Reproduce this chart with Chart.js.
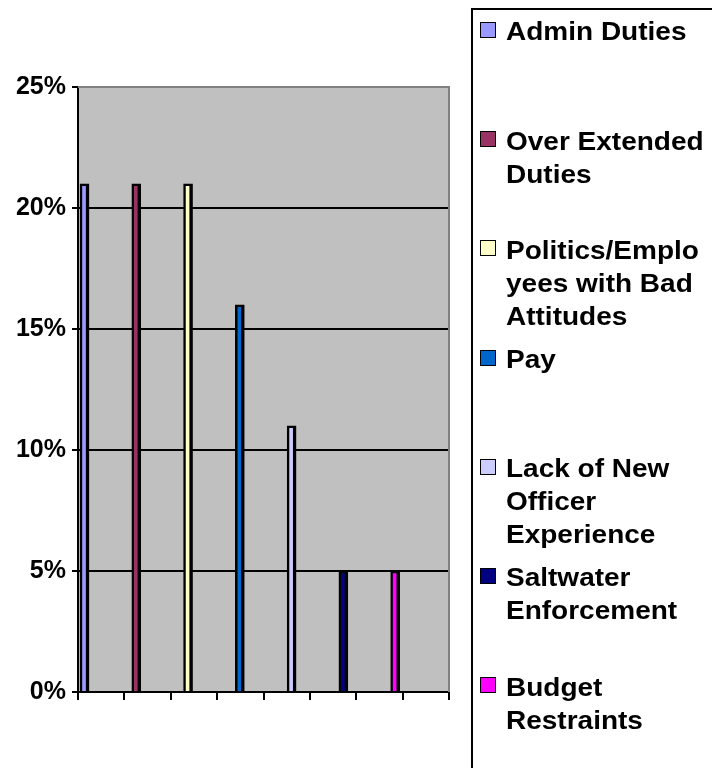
<!DOCTYPE html>
<html>
<head>
<meta charset="utf-8">
<script src="https://cdn.jsdelivr.net/npm/chart.js@4"></script>
<style>
  html, body { margin: 0; padding: 0; background: #fff; overflow: hidden; width: 712px; height: 768px; }
  #wrap { position: absolute; left: 0; top: 0; width: 712px; height: 768px; }
  #legend { position: absolute; left: 471px; top: 8px; width: 300px; height: 820px; border: 2px solid #000; box-sizing: content-box; }
  .item { position: absolute; left: 0; width: 300px; }
  .box { position: absolute; left: 7px; top: 6.6px; width: 14px; height: 14px; border: 1.5px solid #000; }
  .txt { position: absolute; left: 32.5px; top: 0; font: bold 25px "Liberation Sans", Arial, sans-serif; line-height: 33px; color: #000; white-space: nowrap; transform: scaleX(1.12); transform-origin: 0 0; }
</style>
</head>
<body>
<div id="wrap"><canvas id="c" width="712" height="768"></canvas></div>
<div id="legend"></div>
<script>
const categories = ['Admin Duties', 'Over Extended Duties', 'Politics/Employees with Bad Attitudes', 'Pay', 'Lack of New Officer Experience', 'Saltwater Enforcement', 'Budget Restraints'];
const legendLines = [['Admin Duties'], ['Over Extended', 'Duties'], ['Politics/Emplo', 'yees with Bad', 'Attitudes'], ['Pay'], ['Lack of New', 'Officer', 'Experience'], ['Saltwater', 'Enforcement'], ['Budget', 'Restraints']];
const values = [21, 21, 21, 16, 11, 5, 5];
const colors = ['#9999FF', '#993366', '#FFFFCC', '#0066CC', '#CCCCFF', '#000080', '#FF00FF'];
const yTickValues = [0, 5, 10, 15, 20, 25];
const bottomTickSlots = ['', '', '', '', '', '', '', ''];

// HTML legend built from the arrays
const leg = document.getElementById('legend');
legendLines.forEach((lines, i) => {
  const it = document.createElement('div');
  it.className = 'item';
  it.style.top = (5.4 + i * 109.2) + 'px';
  const b = document.createElement('div');
  b.className = 'box';
  b.style.background = colors[i];
  it.appendChild(b);
  const t = document.createElement('div');
  t.className = 'txt';
  t.innerHTML = lines.map(s => s.replace(/&/g, '&amp;')).join('<br>');
  it.appendChild(t);
  leg.appendChild(it);
});

const plotBg = {
  id: 'plotBg',
  beforeDraw(chart) {
    const { ctx, chartArea: a } = chart;
    ctx.save();
    ctx.fillStyle = '#C0C0C0';
    ctx.fillRect(a.left, a.top, a.right - a.left, a.bottom - a.top);
    ctx.restore();
  },
  afterDatasetsDraw(chart) {
    const { ctx, chartArea: a } = chart;
    ctx.save();
    ctx.strokeStyle = '#808080';
    ctx.lineWidth = 2;
    ctx.beginPath();
    ctx.moveTo(a.left, a.top);
    ctx.lineTo(a.right, a.top);
    ctx.lineTo(a.right, a.bottom);
    ctx.stroke();
    ctx.restore();
  }
};

new Chart(document.getElementById('c'), {
  type: 'bar',
  data: {
    datasets: [{
      label: 'Share',
      data: values.map((v, i) => ({ x: i, y: v })),
      backgroundColor: colors,
      borderColor: '#000',
      borderWidth: { left: 2.5, right: 3.5, top: 2.5, bottom: 0 },
      borderSkipped: false,
      barThickness: 9
    }]
  },
  options: {
    responsive: false,
    animation: false,
    layout: { padding: { top: 87, right: 263, left: 0, bottom: 0 } },
    plugins: { legend: { display: false }, tooltip: { enabled: false } },
    scales: {
      x: { type: 'linear', min: -0.126, max: 7.04, offset: false, grid: { offset: false }, display: false },
      xt: {
        type: 'category',
        position: 'bottom',
        labels: bottomTickSlots,
        offset: true,
        grid: { offset: true, drawOnChartArea: false, drawTicks: true, tickLength: 8, color: '#000', lineWidth: 2 },
        border: { display: true, color: '#000', width: 2 },
        ticks: { display: true },
        afterFit(axis) { axis.height = 76; }
      },
      y: {
        min: 0, max: 25,
        afterBuildTicks(axis) { axis.ticks = yTickValues.map(v => ({ value: v })); },
        ticks: {
          callback: v => v + '%',
          color: '#000',
          padding: 6,
          font: { family: '"Liberation Sans", Arial, sans-serif', size: 25, weight: 'bold' }
        },
        grid: {
          color: c => (c.tick && c.tick.value === 25) ? '#808080' : '#000',
          tickColor: '#000',
          lineWidth: 2,
          tickLength: 6
        },
        border: { display: true, color: '#000', width: 2 },
        afterFit(axis) { axis.width = 78; }
      }
    }
  },
  plugins: [plotBg]
});
</script>
</body>
</html>
